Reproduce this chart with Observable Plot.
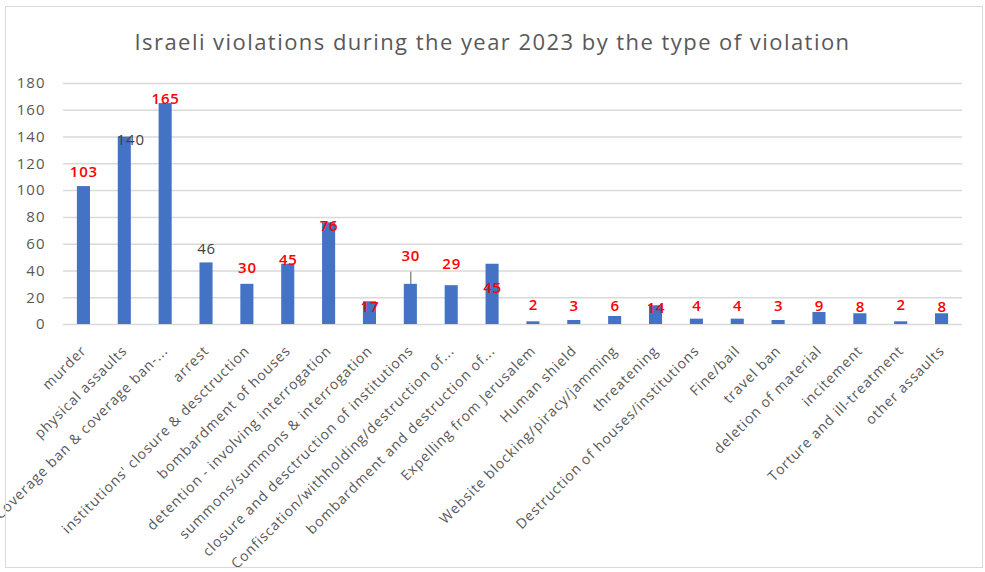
<!DOCTYPE html>
<html>
<head>
<meta charset="utf-8">
<script src="https://cdn.jsdelivr.net/npm/d3@7"></script>
<script src="https://cdn.jsdelivr.net/npm/@observablehq/plot@0.6"></script>
<style>
  html, body { margin: 0; padding: 0; background: #fff; }
  #wrap { position: relative; width: 985px; height: 572px; overflow: hidden; font-family: "Open Sans", sans-serif; }
  #frame { position: absolute; left: 5px; top: 6px; width: 976px; height: 560px; border: 1px solid #d9d9d9; pointer-events: none; }
  #title { position: absolute; left: 0; top: 26px; width: 985px; text-align: center; font-size: 22px; letter-spacing: 1.45px; color: #595959; line-height: 30px; }
  #chart { position: absolute; left: 0; top: 60px; }
  g[aria-label="x-axis tick label"] { letter-spacing: 0.9px; }
  g[aria-label="y-axis tick label"] { letter-spacing: 1px; }
  g[aria-label="text"] { letter-spacing: 0.8px; }
</style>
</head>
<body>
<div id="wrap">
  <div id="title">Israeli violations during the year 2023 by the type of violation</div>
  <div id="chart"></div>
  <div id="frame"></div>
</div>
<script>
const categories = [
  "murder",
  "physical assaults",
  "Coverage ban & coverage ban-...",
  "arrest",
  "institutions' closure & desctruction",
  "bombardment of houses",
  "detention - involving interrogation",
  "summons/summons & interrogation",
  "closure and desctruction of institutions",
  "Confiscation/withholding/destruction of...",
  "bombardment and destruction of...",
  "Expelling from Jerusalem",
  "Human shield",
  "Website blocking/piracy/jamming",
  "threatening",
  "Destruction of houses/institutions",
  "Fine/bail",
  "travel ban",
  "deletion of material",
  "incitement",
  "Torture and ill-treatment",
  "other assaults"
];
const values = [103, 140, 165, 46, 30, 45, 76, 17, 30, 29, 45, 2, 3, 6, 14, 4, 4, 3, 9, 8, 2, 8];
const yTicks = [0, 20, 40, 60, 80, 100, 120, 140, 160, 180];

const data = categories.map((c, i) => ({category: c, value: values[i], i}));

// label placement tweaks (pixel offsets relative to bar top), styling only
const labelDy = [-14, 3, -4, -14, -16, -4, 3, 5, -28, -21, 24, -17, -14, -10, 2, -13, -13, -14, -6, -7, -17, -7];
const labelDx = [0, 6, 0, 0, 0, 0, 0, 0, 0, 0, 0, 0, 0, 0, 0, 0, 0, 0, 0, 0, 0, 0];
const darkLabels = new Set([1, 3]);

const chart = Plot.plot({
  width: 985,
  height: 512,
  marginTop: 23,
  marginBottom: 248,
  marginLeft: 63,
  marginRight: 23,
  style: {fontFamily: "Open Sans, sans-serif", background: "transparent"},
  x: {domain: categories, paddingInner: 0.68, paddingOuter: 0.34, round: false, label: null},
  y: {domain: [0, 180], ticks: yTicks, label: null},
  marks: [
    Plot.gridY(yTicks, {stroke: "#d9d9d9", strokeOpacity: 1, strokeWidth: 1.5}),
    Plot.axisY(yTicks, {tickSize: 0, tickPadding: 18, fontSize: 15, fill: "#595959", label: null}),
    Plot.axisX({tickSize: 0, tickRotate: -45, tickPadding: 24, fontSize: 14, fill: "#595959", label: null}),
    Plot.barY(data, {x: "category", y: "value", fill: "#4472C4"}),
    Plot.ruleX(data.filter(d => d.i === 8), {x: "category", y1: d => d.value, y2: d => d.value + 9, stroke: "#595959", strokeWidth: 1}),
    ...data.map(d => Plot.text([d], {
      x: "category", y: "value", text: d => String(d.value),
      dy: labelDy[d.i], dx: labelDx[d.i],
      fill: darkLabels.has(d.i) ? "#404040" : "#ff0000",
      fontSize: 15, fontWeight: darkLabels.has(d.i) ? 400 : 600
    }))
  ]
});
document.getElementById("chart").appendChild(chart);
</script>
</body>
</html>
